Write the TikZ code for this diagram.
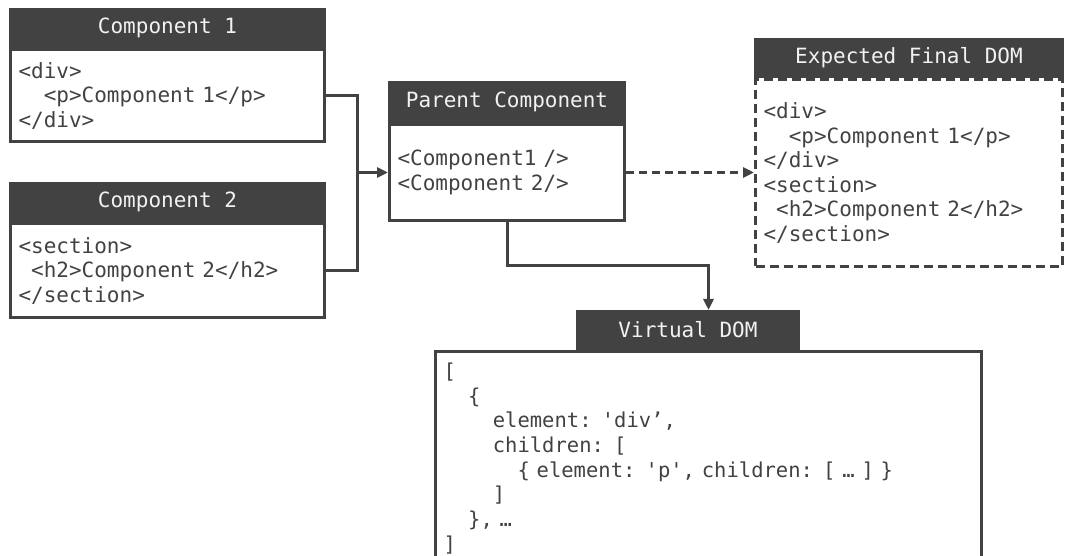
\documentclass[tikz,border=0pt]{standalone}
\usepackage{fontspec}
\usetikzlibrary{positioning,arrows.meta}
\newfontfamily\codefont{DejaVu Sans Mono}[WordSpace={1,0,0}]
\definecolor{ink}{HTML}{424242}
\definecolor{headtext}{HTML}{F2F2F2}

\begin{document}
\begin{tikzpicture}[x=1pt, y=-1pt,
  box/.style={draw=ink, line width=3pt, fill=white, text=ink, align=left,
    inner xsep=8pt, inner ysep=0pt, font=\codefont\fontsize{21}{24.5}\selectfont},
  head/.style={fill=ink, text=headtext, inner sep=0pt, outer sep=0pt,
    minimum height=40pt, font=\codefont\fontsize{21}{24.5}\selectfont},
  link/.style={draw=ink, line width=3pt},
  arrowed/.style={-{Triangle[length=11pt,width=10pt]}}]
  \useasboundingbox (0,0) rectangle (1069,556);
  \clip (0,0) rectangle (1069,556);

  % component 1
  \node[box, minimum width=314pt, text width=298pt, minimum height=92pt] (comp1) at (167.5,95.5)
  {<div>\\ \hphantom{xx}<p>Component 1</p>\\ </div>};
  \node[head, minimum width=317pt, above=0pt of comp1] (comp1head) {Component 1};

  % component 2
  \node[box, minimum width=314pt, text width=298pt, minimum height=94pt] (comp2) at (167.5,270.5)
  {<section>\\ \hphantom{x}<h2>Component 2</h2>\\ </section>};
  \node[head, minimum width=317pt, above=0pt of comp2] (comp2head) {Component 2};

  % parent component
  \node[box, minimum width=235pt, text width=219pt, minimum height=96pt] (parent) at (507,172.5)
  {<Component1 />\\ <Component 2/>};
  \node[head, minimum width=238pt, minimum height=42pt, above=0pt of parent] (parenthead) {Parent Component};

  % expected final dom (dashed)
  \node[box, dash pattern=on 9pt off 5pt, minimum width=307pt, text width=291pt, minimum height=187pt] (expected) at (909,173)
  {<div>\\ \hphantom{xx}<p>Component 1</p>\\ </div>\\ <section>\\ \hphantom{x}<h2>Component 2</h2>\\ </section>};
  \node[head, minimum width=310pt, above=0pt of expected] (expectedhead) {Expected Final DOM};

  % virtual dom
  \node[box, minimum width=546pt, text width=530pt, minimum height=214pt,
    font=\codefont\fontsize{20.5}{24.7}\selectfont] (vdom) at (708.5,458.5)
  {{[}\\
   \hphantom{xx}\{\\
   \hphantom{xxxx}element: \textquotesingle div’,\\
   \hphantom{xxxx}children: [\\
   \hphantom{xxxxxx}\{ element: \textquotesingle p\textquotesingle, children: [ … ] \}\\
   \hphantom{xxxx}]\\
   \hphantom{xx}\}, …\\
   ]};
  \node[head, minimum width=224pt, above=0pt of vdom, xshift=-20.5pt] (vdomhead) {Virtual DOM};

  % connectors
  \coordinate (join) at (357,172.5);
  \draw[link] (comp1.east) -| (join) |- (comp2.east);
  \draw[link, arrowed] (join) -- (parent.west);
  \draw[link, arrowed, dash pattern=on 8pt off 5pt] (parent.east) -- (expected.west |- parent.east);
  \draw[link, arrowed] (parent.south) -- ++(0,44) -| (vdom.north |- vdomhead.north);
\end{tikzpicture}
\end{document}
